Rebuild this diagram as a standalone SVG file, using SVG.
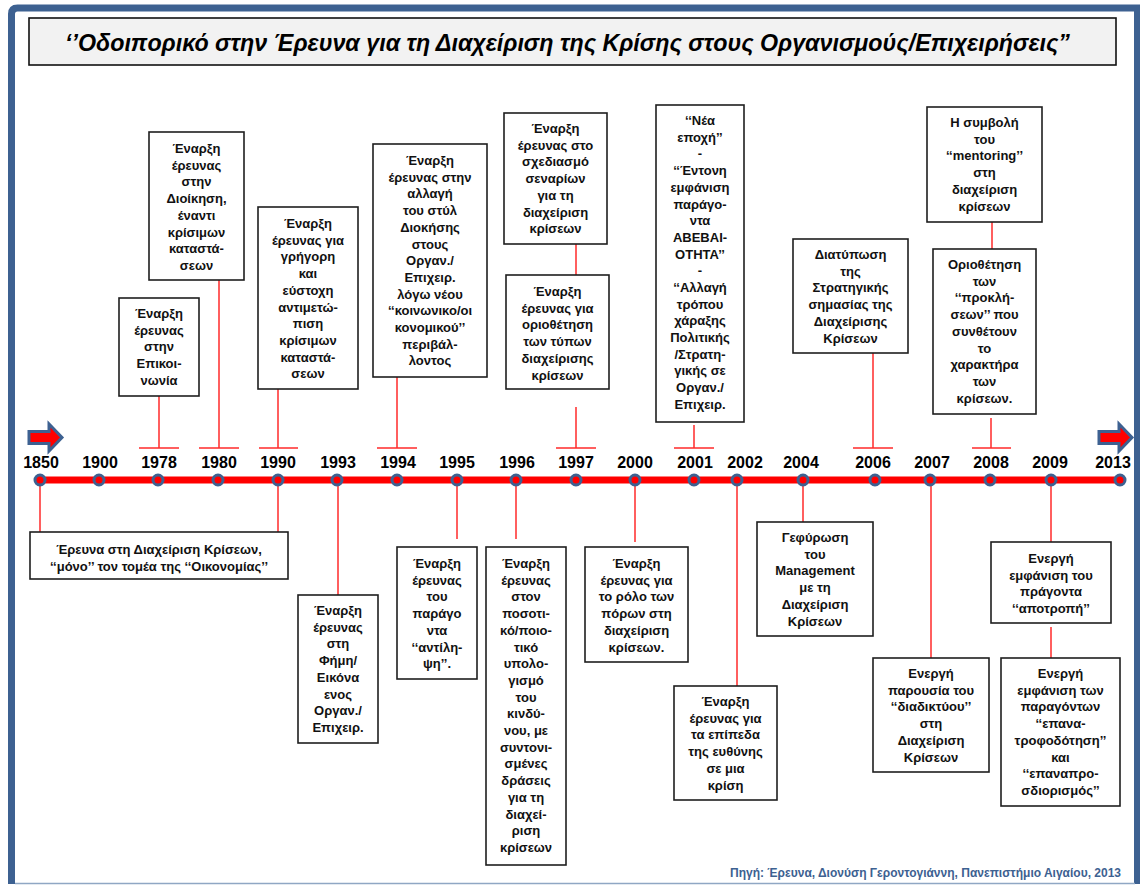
<svg xmlns="http://www.w3.org/2000/svg" width="1140" height="885" viewBox="0 0 1140 885">
  <style>
    .box { fill: #ffffff; stroke: #1e1e1e; stroke-width: 1.6; }
    .lbl { font-family: "Liberation Sans", Arial, sans-serif; font-size: 13px; font-weight: bold; fill: #111111; text-anchor: middle; }
    .year { font-family: "Liberation Sans", Arial, sans-serif; font-size: 16px; font-weight: bold; fill: #000000; text-anchor: middle; }
    .conn { stroke: #ff2a2a; stroke-width: 1.5; fill: none; }
    .dot { fill: #ff0000; stroke: #3d6191; stroke-width: 3; }
    .arrow { fill: #ff0000; stroke: #3d6191; stroke-width: 3; stroke-linejoin: miter; }
  </style>

  <rect x="0" y="0" width="1140" height="885" fill="#ffffff"/>

  <!-- outer frame -->
  <path d="M11.5,884 L11.5,14 Q11.5,8 17.5,8 L1137.5,8 L1137.5,884" fill="none" stroke="#3d6191" stroke-width="7"/>
  <line x1="15" y1="883.5" x2="1135" y2="883.5" stroke="#8fa7c4" stroke-width="1.5"/>

  <!-- title -->
  <g id="title">
    <rect x="29" y="18" width="1087" height="47" fill="#f2f2f2" stroke="#111111" stroke-width="1.6"/>
    <text x="65" y="51" font-family="'Liberation Sans Narrow', 'Liberation Sans', Arial, sans-serif" font-size="24" font-style="italic" font-weight="bold" fill="#000000" textLength="1005" lengthAdjust="spacingAndGlyphs">‘’Οδοιπορικό στην Έρευνα για τη Διαχείριση της Κρίσης στους Οργανισμούς/Επιχειρήσεις”</text>
  </g>

  <!-- connectors: stems, T-bars, timeline -->
  <g id="connectors">
    <line class="conn" x1="40" y1="480" x2="40" y2="532"/>
    <line class="conn" x1="278" y1="480" x2="278" y2="532"/>
    <line class="conn" x1="159" y1="396" x2="159" y2="448"/>
    <line class="conn" x1="139" y1="448" x2="179" y2="448"/>
    <line class="conn" x1="219" y1="280" x2="219" y2="448"/>
    <line class="conn" x1="199" y1="448" x2="239" y2="448"/>
    <line class="conn" x1="278" y1="389" x2="278" y2="448"/>
    <line class="conn" x1="259" y1="448" x2="298" y2="448"/>
    <line class="conn" x1="338" y1="480" x2="338" y2="595"/>
    <line class="conn" x1="397" y1="377" x2="397" y2="448"/>
    <line class="conn" x1="377" y1="448" x2="417" y2="448"/>
    <line class="conn" x1="457" y1="480" x2="457" y2="539"/>
    <line class="conn" x1="516" y1="480" x2="516" y2="539"/>
    <line class="conn" x1="576" y1="244" x2="576" y2="275"/>
    <line class="conn" x1="576" y1="407" x2="576" y2="448"/>
    <line class="conn" x1="556" y1="448" x2="596" y2="448"/>
    <line class="conn" x1="635" y1="480" x2="635" y2="542"/>
    <line class="conn" x1="694" y1="425" x2="694" y2="448"/>
    <line class="conn" x1="674" y1="448" x2="714" y2="448"/>
    <line class="conn" x1="737" y1="480" x2="737" y2="686"/>
    <line class="conn" x1="803" y1="480" x2="803" y2="522"/>
    <line class="conn" x1="873" y1="353" x2="873" y2="448"/>
    <line class="conn" x1="853" y1="448" x2="893" y2="448"/>
    <line class="conn" x1="931" y1="480" x2="931" y2="658"/>
    <line class="conn" x1="992" y1="222" x2="992" y2="249"/>
    <line class="conn" x1="991" y1="418" x2="991" y2="448"/>
    <line class="conn" x1="972" y1="448" x2="1011" y2="448"/>
    <line class="conn" x1="1051" y1="480" x2="1051" y2="542"/>
    <line class="conn" x1="1051" y1="627" x2="1051" y2="658"/>

    <!-- main time axis -->
    <line x1="40" y1="480" x2="1120" y2="480" stroke="#ff0000" stroke-width="7"/>

    <!-- direction arrows -->
    <path class="arrow" d="M29,431.5 L49,431.5 L49,424 L62,437.5 L49,451 L49,443.5 L29,443.5 Z"/>
    <path class="arrow" d="M1099,431.5 L1119,431.5 L1119,424 L1132,437.5 L1119,451 L1119,443.5 L1099,443.5 Z"/>
  </g>

  <!-- year markers -->
  <g id="years">
    <circle class="dot" cx="40" cy="480" r="5"/>
    <circle class="dot" cx="99" cy="480" r="5"/>
    <circle class="dot" cx="158" cy="480" r="5"/>
    <circle class="dot" cx="218" cy="480" r="5"/>
    <circle class="dot" cx="278" cy="480" r="5"/>
    <circle class="dot" cx="337" cy="480" r="5"/>
    <circle class="dot" cx="397" cy="480" r="5"/>
    <circle class="dot" cx="457" cy="480" r="5"/>
    <circle class="dot" cx="516" cy="480" r="5"/>
    <circle class="dot" cx="576" cy="480" r="5"/>
    <circle class="dot" cx="635" cy="480" r="5"/>
    <circle class="dot" cx="694" cy="480" r="5"/>
    <circle class="dot" cx="737" cy="480" r="5"/>
    <circle class="dot" cx="803" cy="480" r="5"/>
    <circle class="dot" cx="875" cy="480" r="5"/>
    <circle class="dot" cx="930" cy="480" r="5"/>
    <circle class="dot" cx="990" cy="480" r="5"/>
    <circle class="dot" cx="1051" cy="480" r="5"/>
    <circle class="dot" cx="1120" cy="480" r="5"/>

    <text class="year" x="41" y="468">1850</text>
    <text class="year" x="100" y="468">1900</text>
    <text class="year" x="159" y="468">1978</text>
    <text class="year" x="219" y="468">1980</text>
    <text class="year" x="278" y="468">1990</text>
    <text class="year" x="338" y="468">1993</text>
    <text class="year" x="398" y="468">1994</text>
    <text class="year" x="457" y="468">1995</text>
    <text class="year" x="517" y="468">1996</text>
    <text class="year" x="576" y="468">1997</text>
    <text class="year" x="635" y="468">2000</text>
    <text class="year" x="695" y="468">2001</text>
    <text class="year" x="745" y="468">2002</text>
    <text class="year" x="801" y="468">2004</text>
    <text class="year" x="873" y="468">2006</text>
    <text class="year" x="932" y="468">2007</text>
    <text class="year" x="991" y="468">2008</text>
    <text class="year" x="1050" y="468">2009</text>
    <text class="year" x="1113" y="468">2013</text>
  </g>

  <!-- events above the axis -->
  <g id="e1978">
    <rect class="box" x="119" y="298" width="80" height="98"/>
    <text class="lbl" x="159" y="318"><tspan x="159">Έναρξη</tspan><tspan x="159" dy="16.7">έρευνας</tspan><tspan x="159" dy="16.7">στην</tspan><tspan x="159" dy="16.7">Επικοι-</tspan><tspan x="159" dy="16.7">νωνία</tspan></text>
  </g>
  <g id="e1980">
    <rect class="box" x="149" y="132" width="95" height="148"/>
    <text class="lbl" x="196.5" y="153"><tspan x="196.5">Έναρξη</tspan><tspan x="196.5" dy="16.7">έρευνας</tspan><tspan x="196.5" dy="16.7">στην</tspan><tspan x="196.5" dy="16.7">Διοίκηση,</tspan><tspan x="196.5" dy="16.7">έναντι</tspan><tspan x="196.5" dy="16.7">κρίσιμων</tspan><tspan x="196.5" dy="16.7">καταστά-</tspan><tspan x="196.5" dy="16.7">σεων</tspan></text>
  </g>
  <g id="e1990a">
    <rect class="box" x="258" y="207" width="100" height="182"/>
    <text class="lbl" x="308" y="228"><tspan x="308">Έναρξη</tspan><tspan x="308" dy="16.7">έρευνας για</tspan><tspan x="308" dy="16.7">γρήγορη</tspan><tspan x="308" dy="16.7">και</tspan><tspan x="308" dy="16.7">εύστοχη</tspan><tspan x="308" dy="16.7">αντιμετώ-</tspan><tspan x="308" dy="16.7">πιση</tspan><tspan x="308" dy="16.7">κρίσιμων</tspan><tspan x="308" dy="16.7">καταστά-</tspan><tspan x="308" dy="16.7">σεων</tspan></text>
  </g>
  <g id="e1994">
    <rect class="box" x="373" y="144" width="114" height="233"/>
    <text class="lbl" x="430" y="165"><tspan x="430">Έναρξη</tspan><tspan x="430" dy="16.7">έρευνας στην</tspan><tspan x="430" dy="16.7">αλλαγή</tspan><tspan x="430" dy="16.7">του στύλ</tspan><tspan x="430" dy="16.7">Διοκήσης</tspan><tspan x="430" dy="16.7">στους</tspan><tspan x="430" dy="16.7">Οργαν./</tspan><tspan x="430" dy="16.7">Επιχειρ.</tspan><tspan x="430" dy="16.7">λόγω νέου</tspan><tspan x="430" dy="16.7">‘‘κοινωνικο/οι</tspan><tspan x="430" dy="16.7">κονομικού’’</tspan><tspan x="430" dy="16.7">περιβάλ-</tspan><tspan x="430" dy="16.7">λοντος</tspan></text>
  </g>
  <g id="e1997a">
    <rect class="box" x="504" y="113" width="103" height="131"/>
    <text class="lbl" x="555.5" y="133"><tspan x="555.5">Έναρξη</tspan><tspan x="555.5" dy="16.7">έρευνας στο</tspan><tspan x="555.5" dy="16.7">σχεδιασμό</tspan><tspan x="555.5" dy="16.7">σεναρίων</tspan><tspan x="555.5" dy="16.7">για τη</tspan><tspan x="555.5" dy="16.7">διαχείριση</tspan><tspan x="555.5" dy="16.7">κρίσεων</tspan></text>
  </g>
  <g id="e1997b">
    <rect class="box" x="506" y="275" width="103" height="114"/>
    <text class="lbl" x="557.5" y="296"><tspan x="557.5">Έναρξη</tspan><tspan x="557.5" dy="16.7">έρευνας για</tspan><tspan x="557.5" dy="16.7">οριοθέτηση</tspan><tspan x="557.5" dy="16.7">των τύπων</tspan><tspan x="557.5" dy="16.7">διαχείρισης</tspan><tspan x="557.5" dy="16.7">κρίσεων</tspan></text>
  </g>
  <g id="e2001">
    <rect class="box" x="656" y="105" width="88" height="317"/>
    <text class="lbl" x="700" y="125"><tspan x="700">‘‘Νέα</tspan><tspan x="700" dy="16.7">εποχή’’</tspan><tspan x="700" dy="16.7">-</tspan><tspan x="700" dy="16.7">‘‘Έντονη</tspan><tspan x="700" dy="16.7">εμφάνιση</tspan><tspan x="700" dy="16.7">παράγο-</tspan><tspan x="700" dy="16.7">ντα</tspan><tspan x="700" dy="16.7">ΑΒΕΒΑΙ-</tspan><tspan x="700" dy="16.7">ΟΤΗΤΑ’’</tspan><tspan x="700" dy="16.7">-</tspan><tspan x="700" dy="16.7">‘‘Αλλαγή</tspan><tspan x="700" dy="16.7">τρόπου</tspan><tspan x="700" dy="16.7">χάραξης</tspan><tspan x="700" dy="16.7">Πολιτικής</tspan><tspan x="700" dy="16.7">/Στρατη-</tspan><tspan x="700" dy="16.7">γικής σε</tspan><tspan x="700" dy="16.7">Οργαν./</tspan><tspan x="700" dy="16.7">Επιχειρ.</tspan></text>
  </g>
  <g id="e2006">
    <rect class="box" x="793" y="239" width="115" height="114"/>
    <text class="lbl" x="850.5" y="259"><tspan x="850.5">Διατύπωση</tspan><tspan x="850.5" dy="16.7">της</tspan><tspan x="850.5" dy="16.7">Στρατηγικής</tspan><tspan x="850.5" dy="16.7">σημασίας της</tspan><tspan x="850.5" dy="16.7">Διαχείρισης</tspan><tspan x="850.5" dy="16.7">Κρίσεων</tspan></text>
  </g>
  <g id="e2008a">
    <rect class="box" x="927" y="107" width="115" height="115"/>
    <text class="lbl" x="984.5" y="127"><tspan x="984.5">Η συμβολή</tspan><tspan x="984.5" dy="16.7">του</tspan><tspan x="984.5" dy="16.7">‘‘mentoring’’</tspan><tspan x="984.5" dy="16.7">στη</tspan><tspan x="984.5" dy="16.7">διαχείριση</tspan><tspan x="984.5" dy="16.7">κρίσεων</tspan></text>
  </g>
  <g id="e2008b">
    <rect class="box" x="933" y="249" width="103" height="165"/>
    <text class="lbl" x="984.5" y="269"><tspan x="984.5">Οριοθέτηση</tspan><tspan x="984.5" dy="16.7">των</tspan><tspan x="984.5" dy="16.7">‘‘προκλή-</tspan><tspan x="984.5" dy="16.7">σεων’’ που</tspan><tspan x="984.5" dy="16.7">συνθέτουν</tspan><tspan x="984.5" dy="16.7">το</tspan><tspan x="984.5" dy="16.7">χαρακτήρα</tspan><tspan x="984.5" dy="16.7">των</tspan><tspan x="984.5" dy="16.7">κρίσεων.</tspan></text>
  </g>

  <!-- events below the axis -->
  <g id="e1850">
    <rect class="box" x="30" y="532" width="258" height="47"/>
    <text class="lbl" x="159" y="554"><tspan x="159">Έρευνα στη Διαχείριση Κρίσεων,</tspan><tspan x="159" dy="17">‘‘μόνο’’ τον τομέα της ‘‘Οικονομίας’’</tspan></text>
  </g>
  <g id="e1993">
    <rect class="box" x="298" y="595" width="80" height="148"/>
    <text class="lbl" x="338" y="615"><tspan x="338">Έναρξη</tspan><tspan x="338" dy="16.7">έρευνας</tspan><tspan x="338" dy="16.7">στη</tspan><tspan x="338" dy="16.7">Φήμη/</tspan><tspan x="338" dy="16.7">Εικόνα</tspan><tspan x="338" dy="16.7">ενος</tspan><tspan x="338" dy="16.7">Οργαν./</tspan><tspan x="338" dy="16.7">Επιχειρ.</tspan></text>
  </g>
  <g id="e1995">
    <rect class="box" x="397" y="547" width="80" height="132"/>
    <text class="lbl" x="437" y="568"><tspan x="437">Έναρξη</tspan><tspan x="437" dy="16.7">έρευνας</tspan><tspan x="437" dy="16.7">του</tspan><tspan x="437" dy="16.7">παράγο</tspan><tspan x="437" dy="16.7">ντα</tspan><tspan x="437" dy="16.7">‘‘αντίλη-</tspan><tspan x="437" dy="16.7">ψη’’.</tspan></text>
  </g>
  <g id="e1996">
    <rect class="box" x="486" y="547" width="80" height="318"/>
    <text class="lbl" x="526" y="568"><tspan x="526">Έναρξη</tspan><tspan x="526" dy="16.7">έρευνας</tspan><tspan x="526" dy="16.7">στον</tspan><tspan x="526" dy="16.7">ποσοτι-</tspan><tspan x="526" dy="16.7">κό/ποιο-</tspan><tspan x="526" dy="16.7">τικό</tspan><tspan x="526" dy="16.7">υπολο-</tspan><tspan x="526" dy="16.7">γισμό</tspan><tspan x="526" dy="16.7">του</tspan><tspan x="526" dy="16.7">κινδύ-</tspan><tspan x="526" dy="16.7">νου, με</tspan><tspan x="526" dy="16.7">συντονι-</tspan><tspan x="526" dy="16.7">σμένες</tspan><tspan x="526" dy="16.7">δράσεις</tspan><tspan x="526" dy="16.7">για τη</tspan><tspan x="526" dy="16.7">διαχεί-</tspan><tspan x="526" dy="16.7">ριση</tspan><tspan x="526" dy="16.7">κρίσεων</tspan></text>
  </g>
  <g id="e2000">
    <rect class="box" x="585" y="547" width="103" height="115"/>
    <text class="lbl" x="636.5" y="568"><tspan x="636.5">Έναρξη</tspan><tspan x="636.5" dy="16.7">έρευνας για</tspan><tspan x="636.5" dy="16.7">το ρόλο των</tspan><tspan x="636.5" dy="16.7">πόρων στη</tspan><tspan x="636.5" dy="16.7">διαχείριση</tspan><tspan x="636.5" dy="16.7">κρίσεων.</tspan></text>
  </g>
  <g id="e2002">
    <rect class="box" x="674" y="686" width="103" height="114"/>
    <text class="lbl" x="725.5" y="706"><tspan x="725.5">Έναρξη</tspan><tspan x="725.5" dy="16.7">έρευνας για</tspan><tspan x="725.5" dy="16.7">τα επίπεδα</tspan><tspan x="725.5" dy="16.7">της ευθύνης</tspan><tspan x="725.5" dy="16.7">σε μια</tspan><tspan x="725.5" dy="16.7">κρίση</tspan></text>
  </g>
  <g id="e2004">
    <rect class="box" x="757" y="522" width="116" height="114"/>
    <text class="lbl" x="815" y="542"><tspan x="815">Γεφύρωση</tspan><tspan x="815" dy="16.7">του</tspan><tspan x="815" dy="16.7">Management</tspan><tspan x="815" dy="16.7">με τη</tspan><tspan x="815" dy="16.7">Διαχείριση</tspan><tspan x="815" dy="16.7">Κρίσεων</tspan></text>
  </g>
  <g id="e2007">
    <rect class="box" x="873" y="658" width="116" height="114"/>
    <text class="lbl" x="931" y="678"><tspan x="931">Ενεργή</tspan><tspan x="931" dy="16.7">παρουσία του</tspan><tspan x="931" dy="16.7">‘‘διαδικτύου’’</tspan><tspan x="931" dy="16.7">στη</tspan><tspan x="931" dy="16.7">Διαχείριση</tspan><tspan x="931" dy="16.7">Κρίσεων</tspan></text>
  </g>
  <g id="e2009a">
    <rect class="box" x="991" y="542" width="120" height="81"/>
    <text class="lbl" x="1051" y="563"><tspan x="1051">Ενεργή</tspan><tspan x="1051" dy="16.7">εμφάνιση του</tspan><tspan x="1051" dy="16.7">πράγοντα</tspan><tspan x="1051" dy="16.7">‘‘αποτροπή’’</tspan></text>
  </g>
  <g id="e2009b">
    <rect class="box" x="1001" y="658" width="119" height="148"/>
    <text class="lbl" x="1060.5" y="678"><tspan x="1060.5">Ενεργή</tspan><tspan x="1060.5" dy="16.7">εμφάνιση των</tspan><tspan x="1060.5" dy="16.7">παραγόντων</tspan><tspan x="1060.5" dy="16.7">‘‘επανα-</tspan><tspan x="1060.5" dy="16.7">τροφοδότηση’’</tspan><tspan x="1060.5" dy="16.7">και</tspan><tspan x="1060.5" dy="16.7">‘‘επαναπρο-</tspan><tspan x="1060.5" dy="16.7">σδιορισμός’’</tspan></text>
  </g>

  <!-- source note -->
  <text x="1121" y="877" font-family="'Liberation Sans', Arial, sans-serif" font-size="12" font-weight="bold" fill="#3d6191" text-anchor="end">Πηγή: Έρευνα, Διονύση Γεροντογιάννη, Πανεπιστήμιο Αιγαίου, 2013</text>
</svg>
